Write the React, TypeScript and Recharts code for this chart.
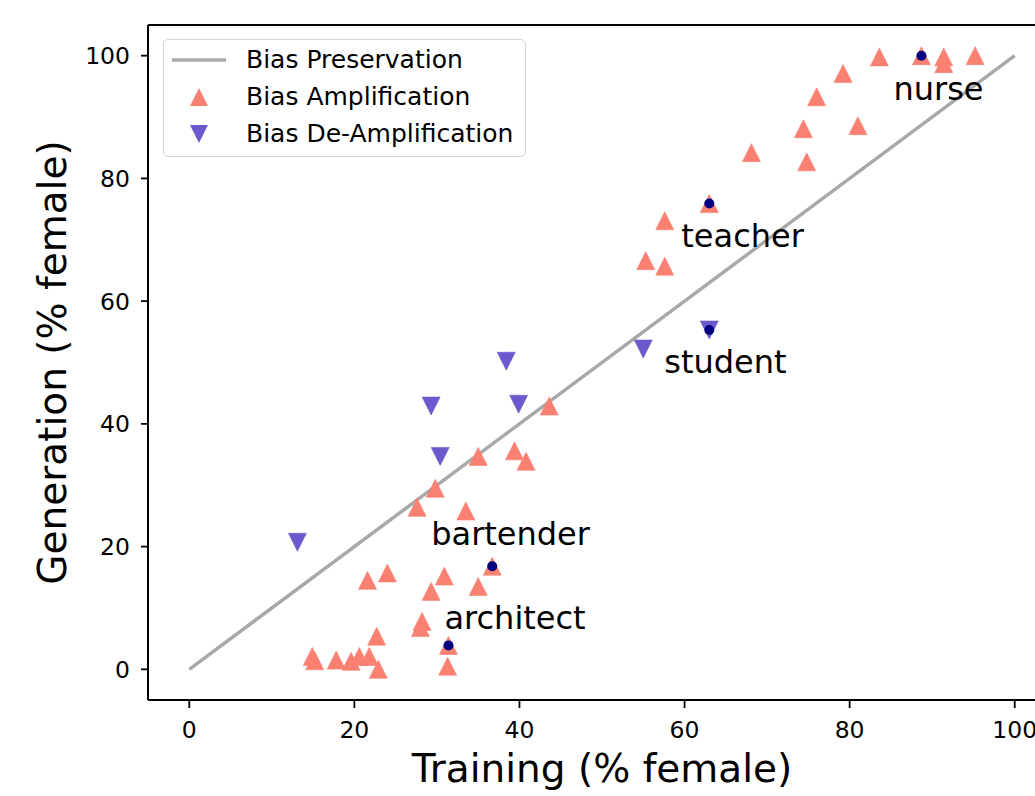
import React from "react";
import { ScatterChart, Scatter, XAxis, YAxis, ReferenceLine } from "recharts";

// Bias Amplification (training % female vs generation % female)
const ampTrainX = [
  14.9, 15.2, 17.8, 19.6, 20.6, 21.8, 22.9, 22.7, 28.0, 28.2, 31.3, 31.4, 21.6, 24.0, 29.3,
  30.9, 35.0, 36.7, 27.6, 29.8, 33.5, 35.0, 39.4, 40.8, 43.6, 55.3, 57.6, 57.6, 63.0, 68.1,
  74.8, 74.4, 81.0, 76.0, 79.2, 83.6, 88.7, 91.4, 91.4, 95.2,
];
const ampGenY = [
  2.1, 1.4, 1.5, 1.3, 2.1, 2.1, 0.0, 5.4, 6.8, 7.8, 0.5, 3.9, 14.5, 15.7, 12.7, 15.2, 13.5,
  16.8, 26.4, 29.5, 25.8, 34.7, 35.6, 33.9, 42.9, 66.6, 65.7, 73.1, 75.9, 84.2, 82.7, 88.1,
  88.6, 93.3, 97.1, 99.8, 100, 99.8, 98.7, 100,
];

// Bias De-Amplification
const deampTrainX = [13.1, 29.3, 30.4, 38.4, 39.9, 55.0, 63.0];
const deampGenY = [20.7, 42.9, 34.7, 50.2, 43.2, 52.2, 55.3];

// highlighted occupations
const jobNames = ["nurse", "teacher", "student", "bartender", "architect"];
const jobTrainX = [88.7, 63.0, 63.0, 36.7, 31.4];
const jobGenY = [100, 75.9, 55.3, 16.8, 3.9];

// bias preservation diagonal
const diagX = [0, 100];
const diagY = [0, 100];

const axisTicks = [0, 20, 40, 60, 80, 100];

// text placement relative to the dot, in px
const labelOffset: Record<string, [number, number]> = {
  nurse: [-28, 44],
  teacher: [-28, 43],
  student: [-45, 43],
  bartender: [-61, -21],
  architect: [-4, -16],
};

const FONT = "DejaVu Sans";
const AMP = "#FA8072";
const DEAMP = "#6A5ACD";
const LINE = "#A9A9A9";

const ampData = ampTrainX.map((x, i) => ({ x, y: ampGenY[i] }));
const deampData = deampTrainX.map((x, i) => ({ x, y: deampGenY[i] }));
const jobData = jobNames.map((name, i) => ({ name, x: jobTrainX[i], y: jobGenY[i] }));
const diagData = diagX.map((x, i) => ({ x, y: diagY[i] }));

const R = 9;

function TriUp(props: any) {
  const { cx, cy } = props;
  return (
    <polygon
      points={`${cx},${cy - R} ${cx - R},${cy + R} ${cx + R},${cy + R}`}
      fill={AMP}
      stroke={AMP}
      strokeWidth={0.6}
    />
  );
}

function TriDown(props: any) {
  const { cx, cy } = props;
  return (
    <polygon
      points={`${cx - R},${cy - R} ${cx + R},${cy - R} ${cx},${cy + R}`}
      fill={DEAMP}
      stroke={DEAMP}
      strokeWidth={0.6}
    />
  );
}

function JobDot(props: any) {
  const { cx, cy, payload } = props;
  const [dx, dy] = labelOffset[payload.name] || [0, 0];
  return (
    <g>
      <circle cx={cx} cy={cy} r={5} fill="#000080" />
      <text x={cx + dx} y={cy + dy} fontSize={32} fontFamily={FONT} fill="#000">
        {payload.name}
      </text>
    </g>
  );
}

function XTick(props: any) {
  const { x, y, payload } = props;
  return (
    <text x={x} y={y + 30} textAnchor="middle" fontSize={23.5} fontFamily={FONT} fill="#000">
      {payload.value}
    </text>
  );
}

function YTick(props: any) {
  const { x, y, payload } = props;
  return (
    <text x={x - 11} y={y + 8.5} textAnchor="end" fontSize={23.5} fontFamily={FONT} fill="#000">
      {payload.value}
    </text>
  );
}

function LegendBox() {
  const row = (top: number, icon: React.ReactNode, label: string) => (
    <div style={{ position: "absolute", left: 0, top, height: 36, width: "100%" }}>
      <svg width={70} height={36} style={{ position: "absolute", left: 0, top: 0 }}>
        {icon}
      </svg>
      <span
        style={{
          position: "absolute",
          left: 82,
          top: 0,
          lineHeight: "36px",
          fontSize: 25,
          fontFamily: FONT,
          color: "#000",
          whiteSpace: "nowrap",
        }}
      >
        {label}
      </span>
    </div>
  );
  return (
    <div
      style={{
        position: "absolute",
        left: 163,
        top: 39,
        width: 361,
        height: 116,
        border: "1.5px solid #d4d4d4",
        borderRadius: 5,
        background: "rgba(255,255,255,0.85)",
      }}
    >
      {row(2, <line x1={8} x2={62} y1={18} y2={18} stroke={LINE} strokeWidth={3.5} />, "Bias Preservation")}
      {row(
        39,
        <polygon points={`35,${18 - R} ${35 - R},${18 + R} ${35 + R},${18 + R}`} fill={AMP} />,
        "Bias Amplification"
      )}
      {row(
        76,
        <polygon points={`${35 - R},${18 - R} ${35 + R},${18 - R} 35,${18 + R}`} fill={DEAMP} />,
        "Bias De-Amplification"
      )}
    </div>
  );
}

export default function App() {
  return (
    <div
      style={{
        position: "fixed",
        left: 0,
        top: 0,
        width: 1035,
        height: 796,
        overflow: "hidden",
        background: "#fff",
      }}
    >
      <ScatterChart width={1100} height={796} margin={{ top: 25, right: 44, bottom: 0, left: 0 }}>
        <XAxis
          type="number"
          dataKey="x"
          domain={[-5, 105]}
          ticks={axisTicks}
          allowDataOverflow
          height={96}
          axisLine={{ stroke: "#000", strokeWidth: 2 }}
          tickLine={{ stroke: "#000", strokeWidth: 1.8 }}
          tickSize={8}
          tickMargin={0}
          tick={<XTick />}
          label={{
            content: (p: any) => {
              const vb = p.viewBox || { x: 148, width: 908 };
              return (
                <text
                  x={vb.x + vb.width / 2}
                  y={782}
                  textAnchor="middle"
                  fontSize={39}
                  fontFamily={FONT}
                  fill="#000"
                >
                  Training (% female)
                </text>
              );
            },
          }}
        />
        <YAxis
          type="number"
          dataKey="y"
          domain={[-5, 105]}
          ticks={axisTicks}
          allowDataOverflow
          width={148}
          axisLine={{ stroke: "#000", strokeWidth: 2 }}
          tickLine={{ stroke: "#000", strokeWidth: 1.8 }}
          tickSize={7}
          tickMargin={0}
          tick={<YTick />}
          label={{
            content: (p: any) => {
              const vb = p.viewBox || { y: 25, height: 675 };
              const cy = vb.y + vb.height / 2;
              return (
                <text
                  x={66}
                  y={cy}
                  transform={`rotate(-90, 66, ${cy})`}
                  textAnchor="middle"
                  fontSize={39}
                  fontFamily={FONT}
                  fill="#000"
                >
                  Generation (% female)
                </text>
              );
            },
          }}
        />
        <ReferenceLine y={105} stroke="#000" strokeWidth={2} ifOverflow="visible" />
        <ReferenceLine x={105} stroke="#000" strokeWidth={2} ifOverflow="visible" />
        <Scatter
          name="Bias Preservation"
          data={diagData}
          line={{ stroke: LINE, strokeWidth: 3.5 }}
          lineType="joint"
          shape={() => <g />}
          isAnimationActive={false}
        />
        <Scatter name="Bias Amplification" data={ampData} shape={<TriUp />} isAnimationActive={false} />
        <Scatter name="Bias De-Amplification" data={deampData} shape={<TriDown />} isAnimationActive={false} />
        <Scatter name="jobs" data={jobData} shape={<JobDot />} isAnimationActive={false} />
      </ScatterChart>
      <LegendBox />
    </div>
  );
}
